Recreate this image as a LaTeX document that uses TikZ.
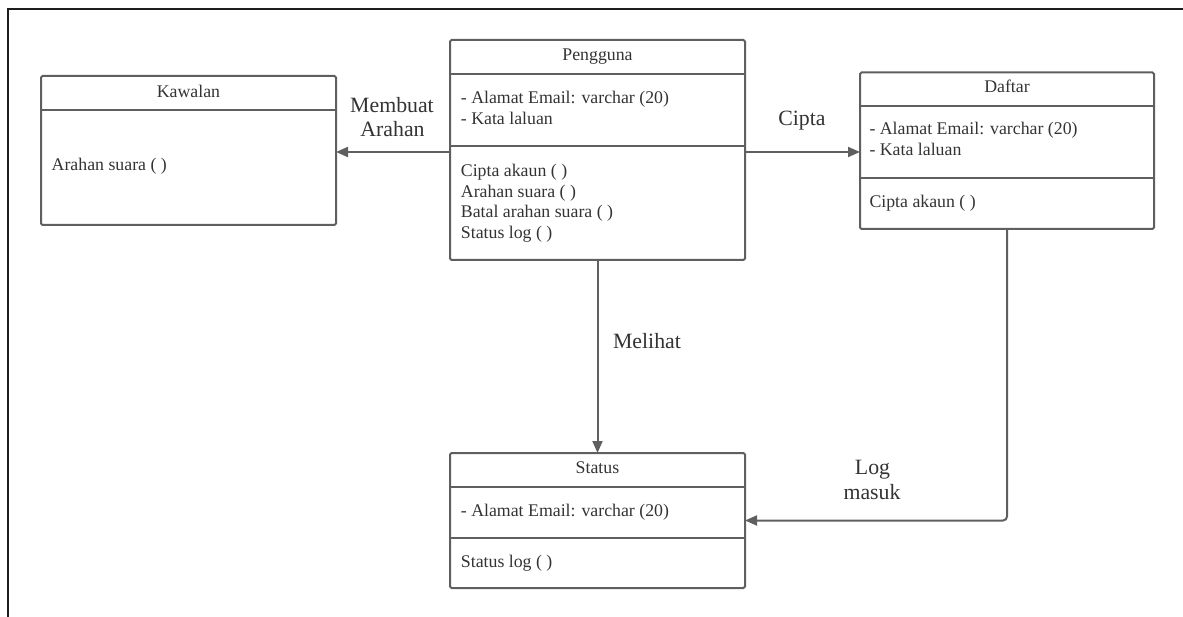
\documentclass[tikz,border=0pt]{standalone}
\usepackage{fontspec}
\setmainfont{Liberation Serif}
\usetikzlibrary{arrows.meta}
\definecolor{linegray}{HTML}{5F5F5F}
\definecolor{textgray}{HTML}{333333}
\definecolor{framegray}{HTML}{1E1E1E}
\tikzset{
  umlbox/.style={draw=linegray, line width=2pt, rounded corners=1.5pt,
    rectangle, anchor=north west, inner sep=0pt, outer sep=0pt},
  divider/.style={draw=linegray, line width=2pt},
  boxtext/.style={text=textgray, inner sep=0pt, anchor=base west,
    font=\fontsize{17.8}{20.7}\selectfont},
  boxtitle/.style={text=textgray, inner sep=0pt, anchor=base,
    font=\fontsize{17.8}{20.7}\selectfont},
  lbl/.style={text=textgray, inner sep=0pt, anchor=base,
    font=\fontsize{21.8}{24}\selectfont},
  conn/.style={draw=linegray, line width=2pt,
    -{Triangle[length=12pt,width=10pt]}},
}
\begin{document}
\begin{tikzpicture}[x=1pt,y=-1pt]
\useasboundingbox (0,0) rectangle (1183,617);
% outer frame edges
\draw[framegray, line width=1.5pt] (7,9) -- (1183,9);
\draw[framegray, line width=1.5pt] (8,9) -- (8,617);

% Kawalan
\node[umlbox, minimum width=295pt, minimum height=149pt] (kaw) at (41,76) {};
\coordinate (kawdl) at (41,110);
\draw[divider] (kawdl) -- (kawdl -| kaw.east);
\node[boxtitle] (kawt) at (188.5,98) {Kawalan};
\node[boxtext] (kawm1) at (51.5,171) {Arahan suara ( )};

% Pengguna
\node[umlbox, minimum width=295pt, minimum height=220pt] (peng) at (450,40) {};
\coordinate (pengd1) at (450,74);
\coordinate (pengd2) at (450,146.5);
\draw[divider] (pengd1) -- (pengd1 -| peng.east);
\draw[divider] (pengd2) -- (pengd2 -| peng.east);
\node[boxtitle] (pengt) at (597.5,61) {Pengguna};
\node[boxtext] (penga1) at (460.7,104) {- Alamat Email: varchar (20)};
\node[boxtext] (penga2) at (460.7,124.5) {- Kata laluan};
\node[boxtext] (pengm1) at (460.7,176.5) {Cipta akaun ( )};
\node[boxtext] (pengm2) at (460.7,197.2) {Arahan suara ( )};
\node[boxtext] (pengm3) at (460.7,217.9) {Batal arahan suara ( )};
\node[boxtext] (pengm4) at (460.7,238.6) {Status log ( )};

% Daftar
\node[umlbox, minimum width=294pt, minimum height=156.5pt] (daft) at (860,72.5) {};
\coordinate (daftd1) at (860,106.5);
\coordinate (daftd2) at (860,178);
\draw[divider] (daftd1) -- (daftd1 -| daft.east);
\draw[divider] (daftd2) -- (daftd2 -| daft.east);
\node[boxtitle] (daftt) at (1007,93) {Daftar};
\node[boxtext] (dafta1) at (869.3,135) {- Alamat Email: varchar (20)};
\node[boxtext] (dafta2) at (869.3,155.5) {- Kata laluan};
\node[boxtext] (daftm1) at (869.3,208) {Cipta akaun ( )};

% Status
\node[umlbox, minimum width=295pt, minimum height=135pt] (stat) at (450,453) {};
\coordinate (statd1) at (450,487);
\coordinate (statd2) at (450,538);
\draw[divider] (statd1) -- (statd1 -| stat.east);
\draw[divider] (statd2) -- (statd2 -| stat.east);
\node[boxtitle] (statt) at (597.5,473) {Status};
\node[boxtext] (stata1) at (460.7,516) {- Alamat Email: varchar (20)};
\node[boxtext] (statm1) at (460.7,567) {Status log ( )};

% connectors
\draw[conn] ([yshift=-2pt]peng.west) -- ([yshift=-2pt]peng.west -| kaw.east);
\draw[conn] ([yshift=-2pt]peng.east) -- ([yshift=-2pt]peng.east -| daft.west);
\draw[conn] (peng.south) -- (stat.north);
\draw[conn, rounded corners=4pt] (daft.south) |- (stat.east);

% connector labels
\node[lbl] (l1a) at (392,113) {Membuat};
\node[lbl] (l1b) at (392.5,136.7) {Arahan};
\node[lbl] (l2) at (802,126) {Cipta};
\node[lbl] (l3) at (647,349) {Melihat};
\node[lbl] (l4a) at (872.5,474.5) {Log};
\node[lbl] (l4b) at (872,499) {masuk};
\end{tikzpicture}
\end{document}
